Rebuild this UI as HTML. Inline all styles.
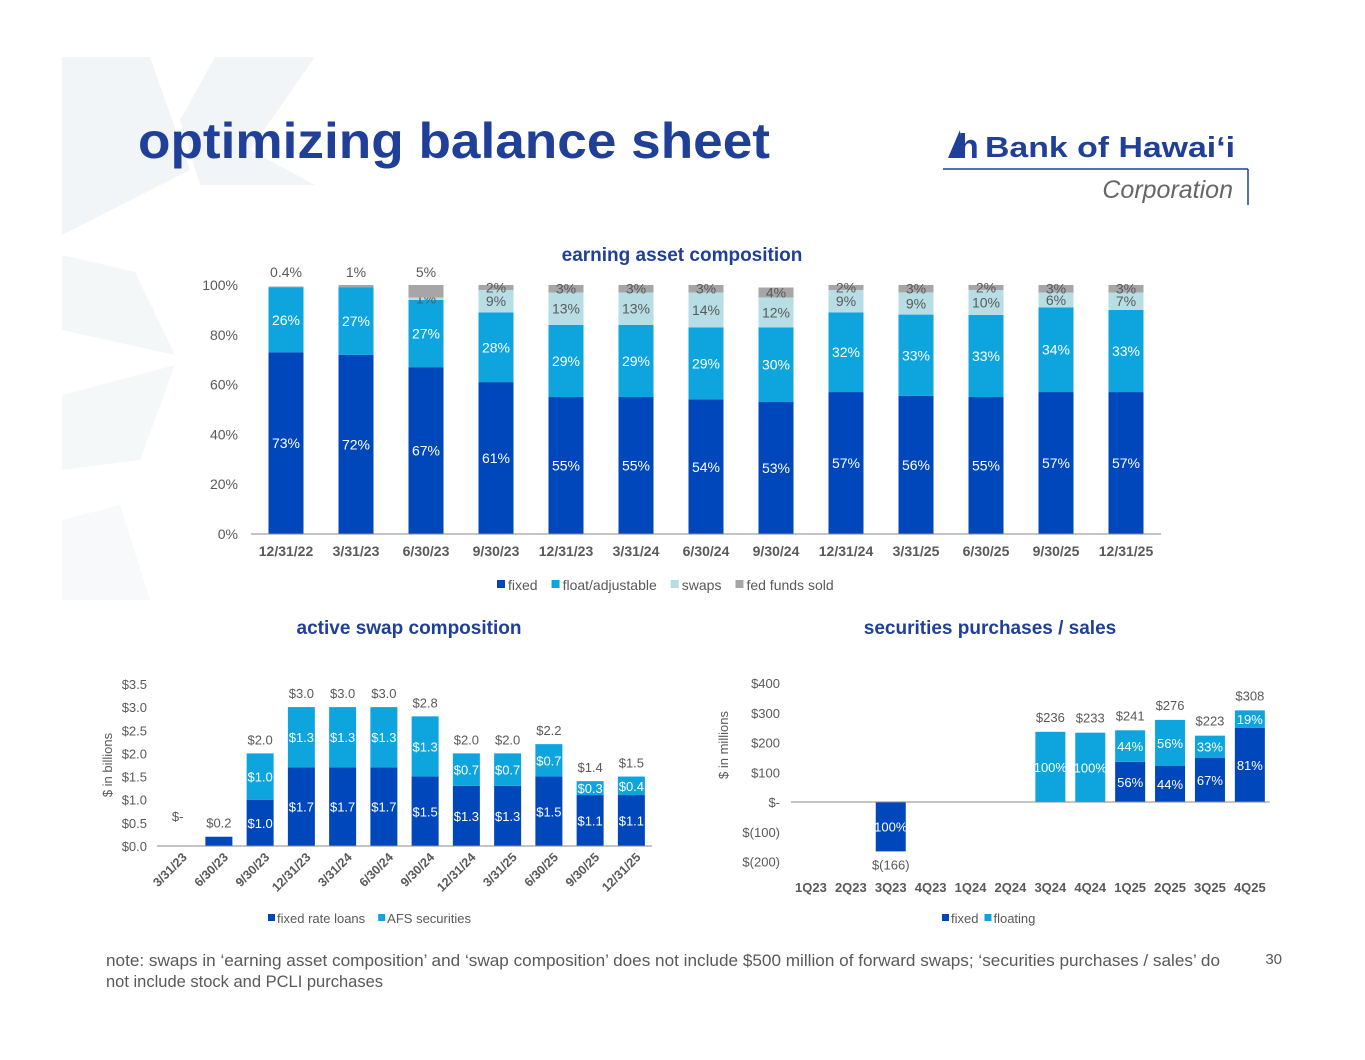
<!DOCTYPE html>
<html><head><meta charset="utf-8"><style>
html,body{margin:0;padding:0;background:#fff;}
body{width:1365px;height:1055px;overflow:hidden;font-family:"Liberation Sans",Arial,sans-serif;}
svg text{font-family:"Liberation Sans",Arial,sans-serif;}
</style></head><body>
<svg id="page" width="1365" height="1055" viewBox="0 0 1365 1055" xmlns="http://www.w3.org/2000/svg">
<g fill="#F1F5F7">
<polygon points="62,57 150,57 190,170 62,235"/>
<polygon points="215,57 315,57 250,150 315,185 200,185 180,120"/>
<polygon points="62,255 135,272 175,355 62,330" fill="#F3F7F8"/>
<polygon points="62,395 175,365 140,460 62,470" fill="#F5F8F9"/>
<polygon points="62,520 120,505 150,600 62,600" fill="#F7F9FA"/>
</g>
<text x="138" y="158" font-size="50" font-weight="bold" fill="#1F3F99" textLength="632" lengthAdjust="spacingAndGlyphs">optimizing balance sheet</text>
<g>
<polygon points="948,158 960,130 962,158" fill="#1F3F99"/>
<text x="958" y="158" font-size="34" font-weight="bold" fill="#1F3F99">h</text>
<text x="985" y="157" font-size="29" font-weight="bold" fill="#1F3F99" textLength="250" lengthAdjust="spacingAndGlyphs">Bank of Hawaiʻi</text>
<line x1="943" y1="169" x2="1248" y2="169" stroke="#1F3F99" stroke-width="1.5"/>
<line x1="1248" y1="169" x2="1248" y2="205" stroke="#1F3F99" stroke-width="1.5"/>
<text x="1233" y="198" font-size="25" font-style="italic" fill="#666" text-anchor="end">Corporation</text>
</g>
<g id="c1"></g>
<g id="c2"></g>
<g id="c3"></g>
<text x="106" y="966" font-size="16.5" fill="#595959" textLength="1114" lengthAdjust="spacingAndGlyphs">note: swaps in ‘earning asset composition’ and ‘swap composition’ does not include $500 million of forward swaps; ‘securities purchases / sales’ do</text>
<text x="106" y="987" font-size="16.5" fill="#595959">not include stock and PCLI purchases</text>
<text x="1282" y="964" font-size="15" fill="#595959" text-anchor="end">30</text>
</svg>
<script>
const NS='http://www.w3.org/2000/svg';
function mk(p,tag,attrs,txt){const e=document.createElementNS(NS,tag);for(const k in attrs)e.setAttribute(k,attrs[k]);if(txt!==undefined)e.textContent=txt;p.appendChild(e);return e;}
const C_FIX='#0047BB',C_FLT='#0EA5DE',C_SWP='#B7DDE5',C_FED='#A6A6A6',GRAY='#595959';

// chart 1 data
const c1Cats=['12/31/22','3/31/23','6/30/23','9/30/23','12/31/23','3/31/24','6/30/24','9/30/24','12/31/24','3/31/25','6/30/25','9/30/25','12/31/25'];
const c1Fixed=[73,72,67,61,55,55,54,53,57,56,55,57,57];
const c1Float=[26,27,27,28,29,29,29,30,32,33,33,34,33];
const c1Swaps=[0,0,1,9,13,13,14,12,9,9,10,6,7];
const c1Fed=[0.4,1,5,2,3,3,3,4,2,3,2,3,3];
const c1FedLbl=['0.4%','1%','5%','2%','3%','3%','3%','4%','2%','3%','2%','3%','3%'];
const c1Ticks=[0,20,40,60,80,100];

// chart 2 data
const c2Cats=['3/31/23','6/30/23','9/30/23','12/31/23','3/31/24','6/30/24','9/30/24','12/31/24','3/31/25','6/30/25','9/30/25','12/31/25'];
const c2Fixed=[0,0.2,1.0,1.7,1.7,1.7,1.5,1.3,1.3,1.5,1.1,1.1];
const c2Afs=[0,0,1.0,1.3,1.3,1.3,1.3,0.7,0.7,0.7,0.3,0.4];
const c2Totals=['$-','$0.2','$2.0','$3.0','$3.0','$3.0','$2.8','$2.0','$2.0','$2.2','$1.4','$1.5'];
const c2Ticks=[0,0.5,1,1.5,2,2.5,3,3.5];

// chart 3 data
const c3Cats=['1Q23','2Q23','3Q23','4Q23','1Q24','2Q24','3Q24','4Q24','1Q25','2Q25','3Q25','4Q25'];
const c3Fixed=[0,0,-166,0,0,0,0,0,135,121,149,249];
const c3Float=[0,0,0,0,0,0,236,233,106,155,74,59];
const c3Totals=['','','$(166)','','','','$236','$233','$241','$276','$223','$308'];
const c3FixPct=['','','100%','','','','','','56%','44%','67%','81%'];
const c3FltPct=['','','','','','','100%','100%','44%','56%','33%','19%'];
const c3Ticks=[-200,-100,0,100,200,300,400];
const c3TickLbl=['$(200)','$(100)','$-','$100','$200','$300','$400'];

// ---- chart 1
(function(){
const g=document.getElementById('c1');
const x0=251,step=70,bw=35,base=534,ph=249;
const X=i=>x0+step/2+step*i, Y=v=>base-v/100*ph;
mk(g,'text',{x:682,y:261,'font-size':19,'font-weight':'bold',fill:'#1F3F99','text-anchor':'middle'},'earning asset composition');
c1Ticks.forEach(t=>{const e=mk(g,'text',{x:238,y:Y(t)+5,'font-size':14,fill:GRAY,'text-anchor':'end'},t+'%');});
c1Cats.forEach((c,i)=>{
 const cx=X(i);let acc=0;
 const tot=c1Fixed[i]+c1Float[i]+c1Swaps[i]+c1Fed[i];
 const sc=tot>100?100/tot:1;
 const segs=[[c1Fixed[i],C_FIX,'#fff'],[c1Float[i],C_FLT,'#fff'],[c1Swaps[i],C_SWP,GRAY],[c1Fed[i],C_FED,GRAY]];
 segs.forEach((s,k)=>{
  if(s[0]<=0)return;
  const v=s[0]*sc;
  const r=mk(g,'rect',{x:cx-bw/2,y:Y(acc+v),width:bw,height:v/100*ph,fill:s[1]});
  
  
  const mid=Y(acc+v/2);
  if(k===3){
   const ly=i<3?Y(100)-8:mid+5;
   mk(g,'text',{x:cx,y:ly,'font-size':14,fill:GRAY,'text-anchor':'middle'},c1FedLbl[i]);
  } else if(!(k===2&&s[0]<1)){
   mk(g,'text',{x:cx,y:mid+5,'font-size':14,fill:s[2],'text-anchor':'middle'},s[0]+'%');
  }
  acc+=v;
 });
 const t=mk(g,'text',{x:cx,y:556,'font-size':14,'font-weight':'bold',fill:GRAY,'text-anchor':'middle'},c);
 
 
});
mk(g,'line',{x1:x0,y1:base,x2:x0+step*13,y2:base,stroke:'#888','stroke-width':1});
const leg=[['fixed',C_FIX],['float/adjustable',C_FLT],['swaps',C_SWP],['fed funds sold',C_FED]];
let lx=497;
leg.forEach(l=>{const gg=mk(g,'g',{});
 mk(gg,'rect',{x:lx,y:580,width:8,height:8,fill:l[1]});
 const t=mk(gg,'text',{x:lx+11,y:590,'font-size':14,fill:GRAY},l[0]);
 lx+=11+t.getComputedTextLength()+14;});
})();

// ---- chart 2
(function(){
const g=document.getElementById('c2');
const x0=157,step=41.25,bw=27,base=846,pu=46.3;
const X=i=>x0+step/2+step*i, Y=v=>base-v*pu;
mk(g,'text',{x:409,y:634,'font-size':19,'font-weight':'bold',fill:'#1F3F99','text-anchor':'middle'},'active swap composition');
c2Ticks.forEach(t=>{const e=mk(g,'text',{x:147,y:Y(t)+5,'font-size':13,fill:GRAY,'text-anchor':'end'},'$'+t.toFixed(1));});
mk(g,'text',{x:112,y:765,'font-size':13,fill:GRAY,'text-anchor':'middle',transform:'rotate(-90 112 765)'},'$ in billions');
c2Cats.forEach((c,i)=>{
 const cx=X(i);
 if(c2Fixed[i]>0){const r=mk(g,'rect',{x:cx-bw/2,y:Y(c2Fixed[i]),width:bw,height:c2Fixed[i]*pu,fill:C_FIX});
  
  if(c2Afs[i]>0)mk(g,'text',{x:cx,y:Y(c2Fixed[i]/2)+5,'font-size':13,fill:'#fff','text-anchor':'middle'},'$'+c2Fixed[i].toFixed(1));}
 if(c2Afs[i]>0){const r=mk(g,'rect',{x:cx-bw/2,y:Y(c2Fixed[i]+c2Afs[i]),width:bw,height:c2Afs[i]*pu,fill:C_FLT});
  
  mk(g,'text',{x:cx,y:Y(c2Fixed[i]+c2Afs[i]/2)+5,'font-size':13,fill:'#fff','text-anchor':'middle'},'$'+c2Afs[i].toFixed(1));}
 const tot=c2Fixed[i]+c2Afs[i];
 mk(g,'text',{x:cx,y:(tot>0?Y(tot):Y(0)-16)-9,'font-size':13,fill:GRAY,'text-anchor':'middle'},c2Totals[i]);
 const t=mk(g,'text',{x:cx+10,y:858,'font-size':12.5,'font-weight':'bold',fill:GRAY,'text-anchor':'end',transform:'rotate(-45 '+(cx+10)+' 858)'},c);
 
});
mk(g,'line',{x1:x0,y1:base,x2:x0+step*12,y2:base,stroke:'#888','stroke-width':1});
let lx=268;
[['fixed rate loans',C_FIX],['AFS securities',C_FLT]].forEach(l=>{const gg=mk(g,'g',{});
 mk(gg,'rect',{x:lx,y:914,width:7,height:7,fill:l[1]});
 const t=mk(gg,'text',{x:lx+9,y:923,'font-size':13,fill:GRAY},l[0]);
 lx+=9+t.getComputedTextLength()+13;});
})();

// ---- chart 3
(function(){
const g=document.getElementById('c3');
const x0=791,step=39.9,bw=30,base=802,pu=0.2975;
const X=i=>x0+step/2+step*i, Y=v=>base-v*pu;
mk(g,'text',{x:990,y:634,'font-size':19,'font-weight':'bold',fill:'#1F3F99','text-anchor':'middle'},'securities purchases / sales');
c3Ticks.forEach((t,k)=>{const e=mk(g,'text',{x:780,y:Y(t)+5,'font-size':13,fill:GRAY,'text-anchor':'end'},c3TickLbl[k]);});
mk(g,'text',{x:728,y:745,'font-size':13,fill:GRAY,'text-anchor':'middle',transform:'rotate(-90 728 745)'},'$ in millions');
c3Cats.forEach((c,i)=>{
 const cx=X(i),f=c3Fixed[i],fl=c3Float[i];
 if(f!==0){const r=mk(g,'rect',{x:cx-bw/2,y:Math.min(Y(f),Y(0)),width:bw,height:Math.abs(f)*pu,fill:C_FIX});
  
  mk(g,'text',{x:cx,y:Y(f/2)+5,'font-size':13,fill:'#fff','text-anchor':'middle'},c3FixPct[i]);}
 const b=Math.max(f,0);
 if(fl>0){const r=mk(g,'rect',{x:cx-bw/2,y:Y(b+fl),width:bw,height:fl*pu,fill:C_FLT});
  
  mk(g,'text',{x:cx,y:Y(b+fl/2)+5,'font-size':13,fill:'#fff','text-anchor':'middle'},c3FltPct[i]);}
 if(c3Totals[i]){const tot=f+fl;
  mk(g,'text',{x:cx,y:tot<0?Y(tot)+18:Y(tot)-10,'font-size':13,fill:GRAY,'text-anchor':'middle'},c3Totals[i]);}
 const t=mk(g,'text',{x:cx,y:892,'font-size':13,'font-weight':'bold',fill:GRAY,'text-anchor':'middle'},c);
 
});
mk(g,'line',{x1:x0,y1:base,x2:x0+step*12,y2:base,stroke:'#888','stroke-width':1});
let lx=942;
[['fixed',C_FIX],['floating',C_FLT]].forEach(l=>{const gg=mk(g,'g',{});
 mk(gg,'rect',{x:lx,y:914,width:7,height:7,fill:l[1]});
 const t=mk(gg,'text',{x:lx+9,y:923,'font-size':13,fill:GRAY},l[0]);
 lx+=9+t.getComputedTextLength()+6;});
})();
</script>
</body></html>
